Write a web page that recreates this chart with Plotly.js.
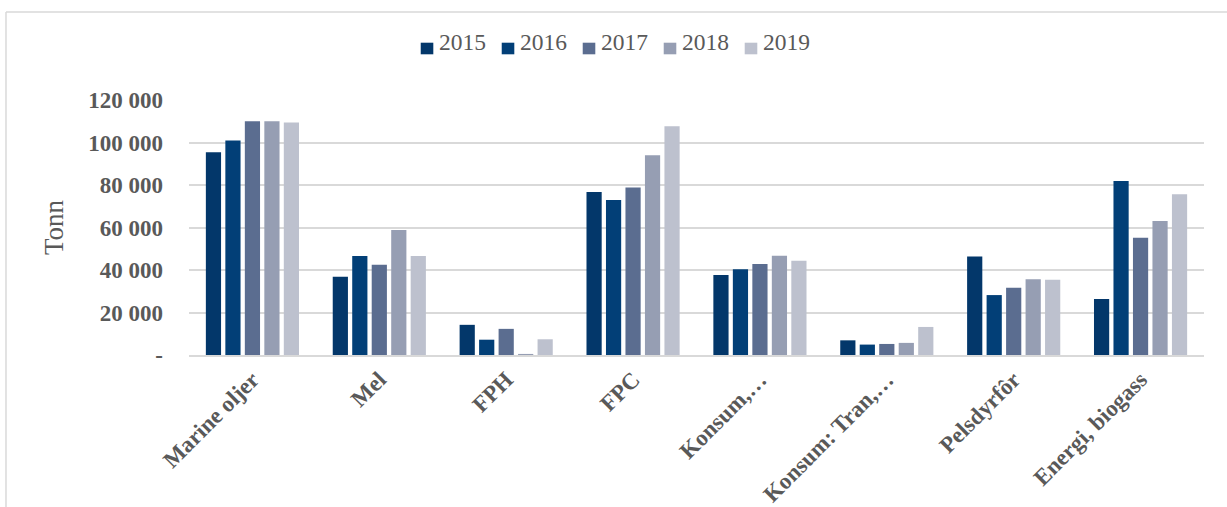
<!DOCTYPE html>
<html>
<head>
<meta charset="utf-8">
<script src="https://cdn.plot.ly/plotly-3.0.1.min.js"></script>
<style>html,body{margin:0;padding:0;background:#fff;}#chart{width:1227px;height:507px;}</style>
</head>
<body>
<div id="chart"></div>
<script>
const categories = ["Marine oljer", "Mel", "FPH", "FPC", "Konsum,…", "Konsum: Tran,…", "Pelsdyrfôr", "Energi, biogass"];
const years = ["2015", "2016", "2017", "2018", "2019"];
const v2015 = [95400, 36800, 14200, 76700, 37600, 6900, 46400, 26300];
const v2016 = [101000, 46600, 7200, 73000, 40400, 4900, 28200, 81900];
const v2017 = [110000, 42500, 12300, 78800, 42800, 5200, 31700, 55200];
const v2018 = [110000, 58800, 500, 94000, 46700, 5700, 35700, 63100];
const v2019 = [109400, 46600, 7400, 107700, 44300, 13200, 35400, 75600];
const yTickVals = [0, 20000, 40000, 60000, 80000, 100000, 120000];
const yTickText = ["-", "20 000", "40 000", "60 000", "80 000", "100 000", "120 000"];
const colors = ["#03376A", "#023F77", "#5B6D90", "#969EB3", "#BDC1CE"];

const series = [v2015, v2016, v2017, v2018, v2019];
const traces = series.map((vals, i) => ({
  type: "bar",
  name: years[i],
  x: categories,
  y: vals,
  marker: {color: colors[i]},
  showlegend: false,
  hoverinfo: "x+y+name"
}));

const serif = "Liberation Serif, Times New Roman, serif";

// Legend drawn as shapes + text (layout positions only)
const legX0 = 0.2283, legStep = 0.0798, legSq = 0.0124;
const legendShapes = years.map((yr, i) => ({
  type: "rect", xref: "paper", yref: "paper",
  x0: legX0 + i * legStep, x1: legX0 + i * legStep + legSq,
  y0: 1.1792, y1: 1.2247,
  fillcolor: colors[i], line: {width: 0}
}));
const legendTexts = years.map((yr, i) => ({
  xref: "paper", yref: "paper",
  x: legX0 + 0.0160 + i * legStep, y: 1.2294,
  xanchor: "left", yanchor: "middle",
  text: yr, showarrow: false,
  font: {family: serif, size: 23.5, color: "#595959"}
}));

const layout = {
  width: 1227,
  height: 507,
  margin: {l: 189, r: 23, t: 100, b: 152},
  paper_bgcolor: "#ffffff",
  plot_bgcolor: "#ffffff",
  barmode: "group",
  bargap: 0.232,
  bargroupgap: 0.22,
  showlegend: false,
  xaxis: {
    type: "category",
    tickangle: -45,
    tickfont: {family: serif, size: 23, color: "#595959", weight: "bold"},
    showgrid: false,
    showline: true,
    linecolor: "#d9d9d9",
    linewidth: 2,
    ticks: "",
    fixedrange: true,
    automargin: false
  },
  yaxis: {
    range: [0, 120000],
    tickvals: yTickVals,
    ticktext: yTickText,
    tickfont: {family: serif, size: 23, color: "#595959", weight: "bold"},
    showgrid: true,
    gridcolor: "#d9d9d9",
    gridwidth: 2,
    zeroline: false,
    showline: false,
    ticks: "",
    ticklabelstandoff: 25,
    title: {text: "Tonn", font: {family: serif, size: 27, color: "#595959"}, standoff: 16},
    fixedrange: true,
    automargin: false
  },
  annotations: legendTexts,
  shapes: [
    {type: "line", xref: "paper", yref: "paper", x0: -0.1803, x1: -0.1803, y0: -0.62, y1: 1.345, line: {color: "#d9d9d9", width: 1.5}},
    {type: "line", xref: "paper", yref: "paper", x0: -0.1803, x1: 1.03, y0: 1.345, y1: 1.345, line: {color: "#d9d9d9", width: 1.5}}
  ].concat(legendShapes)
};

Plotly.newPlot("chart", traces, layout, {displayModeBar: false, staticPlot: true});
</script>
</body>
</html>
